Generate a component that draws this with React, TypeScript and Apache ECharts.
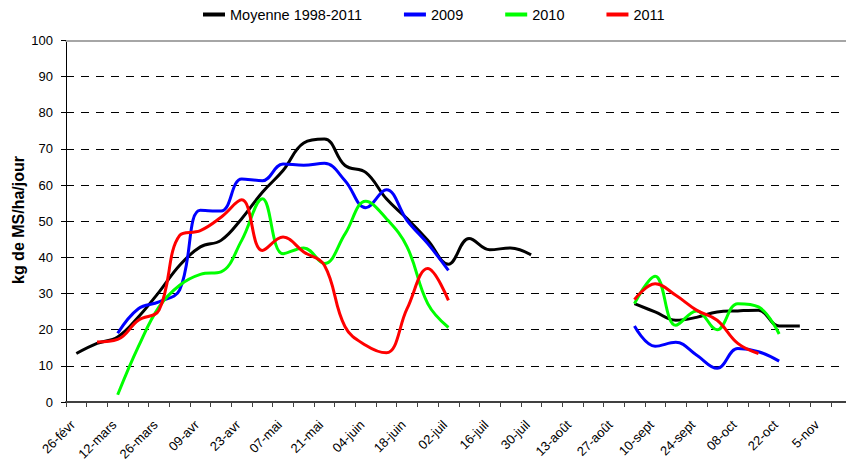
import React, { useEffect, useRef } from "react";
import * as echarts from "echarts";

const categories = [
  "26-févr", "05-mars", "12-mars", "19-mars", "26-mars", "02-avr", "09-avr", "16-avr",
  "23-avr", "30-avr", "07-mai", "14-mai", "21-mai", "28-mai", "04-juin", "11-juin",
  "18-juin", "25-juin", "02-juil", "09-juil", "16-juil", "23-juil", "30-juil", "06-août",
  "13-août", "20-août", "27-août", "03-sept", "10-sept", "17-sept", "24-sept", "01-oct",
  "08-oct", "15-oct", "22-oct", "29-oct", "5-nov", "12-nov",
];

const _ = null;
const moyenne = [13.4, 16.2, 18.0, 23.5, 30.4, 37.8, 42.9, 44.7, 50.7, 58, 64, 71.6, 72.7, 65.4, 63.5, 56.2, 50.7, 44.7, 38.1, 45.2, 42.1, 42.6, 40.7, _, _, _, _, 27.2, 24.9, 22.6, 23.4, 24.9, 25.2, 25.4, 21, 21, _, _];
const y2009 = [_, _, 19, 25.8, 27.7, 31, 53, 52.8, 61.7, 61.2, 65.8, 65.5, 66, 61.2, 53.7, 58.7, 50.2, 43.8, 36.4, _, _, _, _, _, _, _, _, 21, 15.4, 16.5, 13, 9.3, 14.8, 13.9, 11.3, _, _, _];
const y2010 = [_, _, 2, 15.3, 26.3, 32.3, 35.3, 36, 44.7, 56.2, 41, 42.6, 38.3, 46.5, 55.5, 50.7, 42.9, 27.2, 20.6, _, _, _, _, _, _, _, _, 27.2, 34.8, 21.2, 25.2, 20, 27.2, 26.3, 18.8, _, _, _];
const y2011 = [_, 16.6, 17.3, 22.6, 25.4, 46.1, 47.4, 51.1, 55.9, 41.9, 45.6, 41.5, 37.8, 20.8, 15.7, 13.6, 25.8, 36.9, 28.1, _, _, _, _, _, _, _, _, 28.3, 32.7, 29.5, 25.4, 22.6, 16.2, 13.4, _, _, _, _];

const seriesNames = ["Moyenne 1998-2011", "2009", "2010", "2011"];
const seriesColors = ["#000000", "#0000ff", "#00ff00", "#ff0000"];
const seriesData = [moyenne, y2009, y2010, y2011];
const yTitle = "kg de MS/ha/jour";

const FONT = '"Liberation Sans", Arial, sans-serif';

export default function App() {
  const ref = useRef<HTMLDivElement>(null);
  useEffect(() => {
    if (!ref.current) return;
    const chart = echarts.init(ref.current, undefined, { renderer: "svg" });
    chart.setOption({
      animation: false,
      textStyle: { fontFamily: FONT },
      legend: {
        left: 203,
        top: 7,
        padding: 0,
        itemWidth: 22,
        itemHeight: 4,
        itemGap: 42,
        icon: "rect",
        textStyle: { fontSize: 14.5, color: "#000", fontFamily: FONT },
        data: seriesNames,
      },
      grid: {
        left: 66,
        top: 40.4,
        width: 785.5,
        bottom: 61,
        containLabel: false,
        outerBoundsMode: "none",
      },
      xAxis: [
        {
          type: "category",
          data: categories,
          boundaryGap: true,
          axisLine: { lineStyle: { color: "#404040", width: 2 } },
          axisTick: { show: true, interval: 0, length: 5, lineStyle: { color: "#404040", width: 1 } },
          axisLabel: {
            interval: 1,
            rotate: 45,
            fontSize: 13,
            color: "#000",
            margin: 17,
            padding: [0, 5, 0, 0],
            fontFamily: FONT,
          },
        },
        {
          type: "category",
          data: categories,
          position: "top",
          axisLine: { show: true, lineStyle: { color: "#a6a6a6", width: 2 } },
          axisTick: { show: false },
          axisLabel: { show: false },
        },
      ],
      yAxis: {
        type: "value",
        min: 0,
        max: 100,
        interval: 10,
        axisLine: { show: true, lineStyle: { color: "#000", width: 1 } },
        axisTick: { show: true, length: 5, lineStyle: { color: "#000" } },
        axisLabel: { fontSize: 13, color: "#000", margin: 13, fontFamily: FONT },
        splitLine: {
          show: true,
          showMaxLine: false,
          lineStyle: { color: "#000", width: 1, type: [8, 7] },
        },
      },
      graphic: [
        {
          type: "text",
          x: 18,
          y: 220,
          rotation: Math.PI / 2,
          style: {
            text: yTitle,
            font: `bold 16px ${FONT}`,
            fill: "#000",
            align: "center",
            verticalAlign: "middle",
          },
        },
      ],
      series: seriesNames.map((name, i) => ({
        name,
        type: "line",
        data: seriesData[i],
        smooth: 0.4,
        connectNulls: false,
        showSymbol: false,
        symbol: "none",
        lineStyle: { color: seriesColors[i], width: 3 },
        itemStyle: { color: seriesColors[i] },
      })),
    });
    return () => chart.dispose();
  }, []);
  return (
    <div
      ref={ref}
      style={{ position: "fixed", left: 0, top: 0, width: 846, height: 463, background: "#fff" }}
    />
  );
}
